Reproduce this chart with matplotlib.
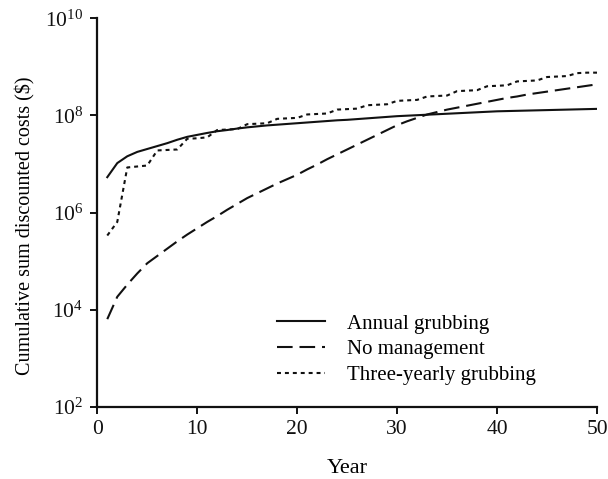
import matplotlib
matplotlib.use("Agg")
import matplotlib.pyplot as plt
import numpy as np
from matplotlib.ticker import FixedLocator, FuncFormatter, NullLocator

plt.rcParams['font.family'] = ['Liberation Serif', 'DejaVu Serif']
plt.rcParams['mathtext.fontset'] = 'custom'
plt.rcParams['mathtext.rm'] = 'Liberation Serif'
plt.rcParams['mathtext.it'] = 'Liberation Serif:italic'

years = list(range(1, 51))

# log10 of cumulative discounted cost
annual_log = [6.73, 7.02, 7.16, 7.25, 7.31, 7.37, 7.43, 7.50, 7.56, 7.60,
              7.64, 7.675, 7.70, 7.73, 7.755, 7.775, 7.795, 7.81, 7.825, 7.84,
              7.855, 7.87, 7.885, 7.90, 7.91, 7.925, 7.94, 7.955, 7.97, 7.985,
              7.995, 8.005, 8.015, 8.025, 8.035, 8.045, 8.055, 8.065, 8.075, 8.085,
              8.09, 8.095, 8.10, 8.105, 8.11, 8.115, 8.12, 8.125, 8.13, 8.135]
nomgmt_log = [3.81, 4.27, 4.52, 4.75, 4.96, 5.11, 5.26, 5.41, 5.55, 5.68,
              5.81, 5.93, 6.06, 6.18, 6.30, 6.40, 6.50, 6.60, 6.69, 6.78,
              6.89, 6.99, 7.10, 7.20, 7.30, 7.40, 7.50, 7.60, 7.70, 7.80,
              7.88, 7.95, 8.02, 8.07, 8.12, 8.16, 8.20, 8.24, 8.28, 8.32,
              8.36, 8.39, 8.43, 8.46, 8.49, 8.52, 8.55, 8.58, 8.61, 8.64]
three_log = [5.53, 5.81, 6.93, 6.95, 6.97, 7.28, 7.29, 7.30, 7.52, 7.53,
             7.55, 7.70, 7.71, 7.72, 7.82, 7.83, 7.84, 7.93, 7.94, 7.95,
             8.02, 8.03, 8.04, 8.12, 8.13, 8.14, 8.21, 8.22, 8.23, 8.30,
             8.31, 8.32, 8.39, 8.40, 8.41, 8.50, 8.51, 8.52, 8.60, 8.61,
             8.62, 8.70, 8.71, 8.72, 8.79, 8.80, 8.81, 8.87, 8.88, 8.88]

labels = ["Annual grubbing", "No management", "Three-yearly grubbing"]
yticks = [1e2, 1e4, 1e6, 1e8, 1e10]
xticks = [0, 10, 20, 30, 40, 50]

fig = plt.figure(figsize=(6.08, 4.79), dpi=100)
ax = fig.add_axes([0.16, 0.150, 0.822, 0.812])

lw = 1.5
ax.plot(years, np.power(10, annual_log), color='#111111', lw=lw, label=labels[0])
ax.plot(years, np.power(10, nomgmt_log), color='#111111', lw=lw, dashes=(7.5, 3.3),
        dash_capstyle='butt', label=labels[1])
ax.plot(years, np.power(10, three_log), color='#111111', lw=lw, dashes=(1.9, 1.9),
        dash_capstyle='butt', label=labels[2])

ax.set_yscale('log')
ax.set_xlim(0, 50)
ax.set_ylim(1e2, 1e10)
ax.yaxis.set_major_locator(FixedLocator(yticks))
ax.yaxis.set_minor_locator(NullLocator())
ax.yaxis.set_major_formatter(FuncFormatter(lambda v, p: r'$\mathregular{10^{%d}}$' % round(np.log10(v))))
ax.set_xticks(xticks)

for s in ['top', 'right']:
    ax.spines[s].set_visible(False)
for s in ['left', 'bottom']:
    ax.spines[s].set_linewidth(1.6)
    ax.spines[s].set_color('#111111')
ax.tick_params(direction='out', length=5, width=1.4, labelsize=15.5, colors='#111111')
ax.tick_params(axis='y', pad=5)
ax.tick_params(axis='x', pad=4)

ax.set_xlabel('Year', fontsize=16, labelpad=15)
ax.set_ylabel('Cumulative sum discounted costs ($)', fontsize=14.5)
ax.yaxis.set_label_coords(-0.124, 0.466)

leg = fig.legend(loc='upper left', bbox_to_anchor=(277 / 608, 1 - 314 / 479), frameon=False,
                 fontsize=15, handlelength=2.3, handletextpad=1.05, labelspacing=0.29,
                 borderpad=0, borderaxespad=0)

fig.savefig('out.png', dpi=100)
